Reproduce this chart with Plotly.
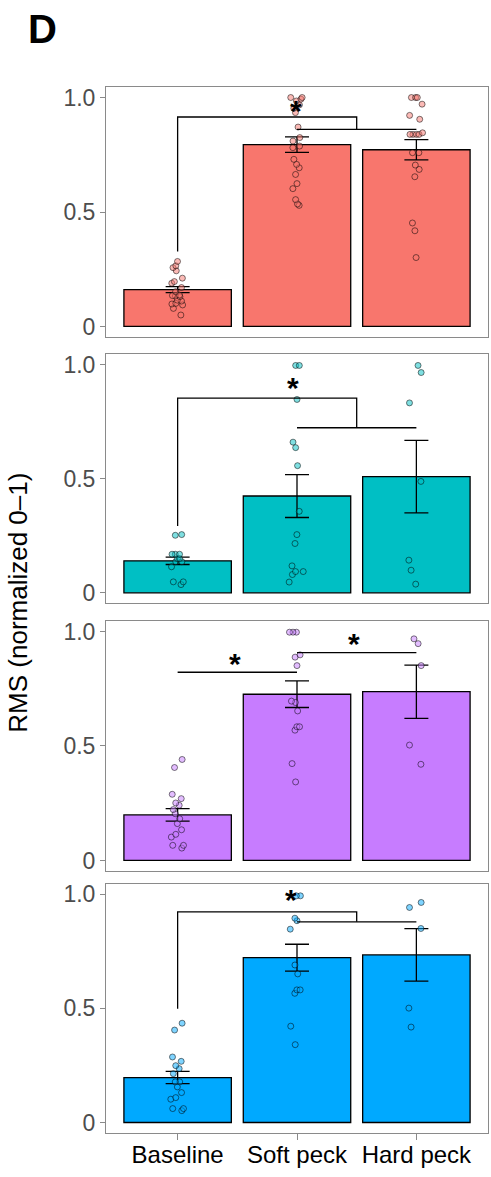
import plotly.graph_objects as go
from plotly.subplots import make_subplots

categories = ["Baseline", "Soft peck", "Hard peck"]
panel_colors = ["#F8766D", "#00BFC4", "#C77CFF", "#00A9FF"]
panel_points_fill = ["rgba(248,118,109,0.5)", "rgba(0,191,196,0.5)",
                     "rgba(199,124,255,0.5)", "rgba(0,169,255,0.5)"]

# bar means and standard errors (per panel: Baseline, Soft peck, Hard peck)
means_p1 = [0.161, 0.794, 0.772]
sem_p1 = [0.013, 0.034, 0.044]
means_p2 = [0.140, 0.424, 0.509]
sem_p2 = [0.016, 0.094, 0.159]
means_p3 = [0.199, 0.726, 0.737]
sem_p3 = [0.027, 0.058, 0.116]
means_p4 = [0.197, 0.722, 0.734]
sem_p4 = [0.027, 0.059, 0.115]

# individual observations
p1_baseline = [0.284, 0.265, 0.257, 0.243, 0.211, 0.196, 0.189, 0.170, 0.152, 0.137,
               0.135, 0.133, 0.130, 0.115, 0.111, 0.101, 0.098, 0.094, 0.079, 0.050]
p1_soft = [1.0, 1.0, 0.993, 0.985, 0.968, 0.953, 0.934, 0.871, 0.825, 0.810, 0.788,
           0.781, 0.730, 0.708, 0.693, 0.664, 0.624, 0.602, 0.554, 0.535, 0.529]
p1_hard = [1.0, 1.0, 1.0, 0.971, 0.922, 0.905, 0.846, 0.839, 0.839, 0.839, 0.839,
           0.759, 0.759, 0.705, 0.686, 0.654, 0.452, 0.418, 0.301]

p2_baseline = [0.255, 0.252, 0.169, 0.169, 0.169, 0.150, 0.150, 0.136, 0.136, 0.114,
               0.048, 0.048, 0.036]
p2_soft = [0.996, 0.996, 0.847, 0.660, 0.636, 0.557, 0.357, 0.255, 0.216, 0.118,
           0.093, 0.093, 0.080, 0.047]
p2_hard = [0.996, 0.965, 0.832, 0.488, 0.143, 0.099, 0.038]

p3_baseline = [0.441, 0.406, 0.289, 0.270, 0.251, 0.241, 0.222, 0.204, 0.182, 0.161,
               0.134, 0.114, 0.102, 0.066, 0.066, 0.054]
p3_soft = [0.997, 0.997, 0.997, 0.898, 0.888, 0.851, 0.696, 0.690, 0.653, 0.584,
           0.584, 0.569, 0.423, 0.343]
p3_hard = [0.968, 0.947, 0.851, 0.504, 0.420]

p4_baseline = [0.435, 0.405, 0.287, 0.268, 0.249, 0.236, 0.214, 0.178, 0.178, 0.156,
               0.131, 0.109, 0.102, 0.061, 0.061, 0.052]
p4_soft = [0.993, 0.993, 0.895, 0.884, 0.847, 0.690, 0.651, 0.581, 0.581, 0.566,
           0.422, 0.341]
p4_hard = [0.964, 0.942, 0.850, 0.501, 0.418]

# significance brackets: (leg bottom at group 1, top height, drop height for groups 2-3)
nested_brackets = {1: (0.327, 0.915, 0.861), 2: (0.293, 0.853, 0.723), 4: (0.498, 0.923, 0.879)}
# simple pairwise lines: (panel, from group, to group, height)
pair_lines = [(3, 0, 1, 0.822), (3, 1, 2, 0.908)]
# asterisks: (panel, x position in group units, height)
stars = [(1, 0.99, 0.959), (2, 0.97, 0.918), (3, 0.48, 0.876), (3, 1.48, 0.964), (4, 0.95, 0.993)]

y_tick_vals = [0, 0.5, 1.0]
y_tick_text = ["0", "0.5", "1.0"]
y_title = "RMS (normalized 0–1)"
panel_label = "D"

panels = [
    (means_p1, sem_p1, [p1_baseline, p1_soft, p1_hard]),
    (means_p2, sem_p2, [p2_baseline, p2_soft, p2_hard]),
    (means_p3, sem_p3, [p3_baseline, p3_soft, p3_hard]),
    (means_p4, sem_p4, [p4_baseline, p4_soft, p4_hard]),
]

FONT = "Liberation Sans, Arial, sans-serif"
GRID_GRAY = "#8a8a8a"

fig = make_subplots(rows=4, cols=1)
domains = [[0.761, 1.0], [0.5064, 0.7447], [0.2505, 0.4895], [0.0, 0.2383]]
xpos = list(range(len(categories)))

for i, (means, sems, groups) in enumerate(panels):
    r = i + 1
    fig.add_trace(go.Bar(
        x=xpos, y=means, width=0.9,
        marker=dict(color=panel_colors[i], line=dict(color="black", width=1.3)),
        error_y=dict(type="data", array=sems, color="black", thickness=1.3, width=12),
        hoverinfo="skip", showlegend=False), row=r, col=1)
    xs, ys = [], []
    for g, vals in enumerate(groups):
        xs += [g] * len(vals)
        ys += vals
    fig.add_trace(go.Box(
        x=xs, y=ys, boxpoints="all", jitter=0.45, pointpos=0, width=0.3,
        line=dict(color="rgba(0,0,0,0)"), fillcolor="rgba(0,0,0,0)",
        marker=dict(size=6, color=panel_points_fill[i],
                    line=dict(color="rgba(0,0,0,0.5)", width=1)),
        hoverinfo="skip", showlegend=False), row=r, col=1)

def axref(p):
    return ("x" if p == 1 else f"x{p}"), ("y" if p == 1 else f"y{p}")

line_style = dict(color="black", width=1.3)
for p, (bottom, top, drop) in nested_brackets.items():
    xr, yr = axref(p)
    fig.add_shape(type="path", xref=xr, yref=yr,
                  path=f"M 0 {bottom} L 0 {top} L 1.5 {top} L 1.5 {drop}", line=line_style)
    fig.add_shape(type="line", xref=xr, yref=yr, x0=1, x1=2, y0=drop, y1=drop, line=line_style)
for p, g0, g1, h in pair_lines:
    xr, yr = axref(p)
    fig.add_shape(type="line", xref=xr, yref=yr, x0=g0, x1=g1, y0=h, y1=h, line=line_style)
for p, sx, sy in stars:
    xr, yr = axref(p)
    fig.add_annotation(x=sx, y=sy, xref=xr, yref=yr, text="<b>*</b>", showarrow=False,
                       font=dict(size=30, color="black", family=FONT),
                       xanchor="center", yanchor="middle", yshift=-4)

for i in range(4):
    r = i + 1
    fig.update_yaxes(row=r, col=1, domain=domains[i], range=[-0.046, 1.046],
                     tickvals=y_tick_vals, ticktext=y_tick_text, ticks="outside", ticklen=5,
                     tickcolor=GRID_GRAY, tickfont=dict(size=23, color="#4d4d4d", family=FONT),
                     showgrid=False, zeroline=False, showline=True, mirror=True,
                     linecolor=GRID_GRAY, linewidth=1)
    fig.update_xaxes(row=r, col=1, range=[-0.6, 2.6], tickvals=xpos, ticktext=categories,
                     showgrid=False, zeroline=False, showline=True, mirror=True,
                     linecolor=GRID_GRAY, linewidth=1,
                     showticklabels=(r == 4), ticks=("outside" if r == 4 else ""), ticklen=6,
                     ticklabelstandoff=-6,
                     tickcolor=GRID_GRAY, tickfont=dict(size=24, color="black", family=FONT))

fig.add_annotation(text=y_title, xref="paper", yref="paper", x=0, y=0.507, xshift=-88,
                   textangle=-90, showarrow=False, xanchor="center", yanchor="middle",
                   font=dict(size=26, color="black", family=FONT))
fig.add_annotation(text=f"<b>{panel_label}</b>", xref="paper", yref="paper", x=0, y=1.0555,
                   xshift=-63.5, showarrow=False, xanchor="center", yanchor="middle",
                   font=dict(size=40, color="black", family=FONT))

fig.update_layout(width=491, height=1177, margin=dict(l=106, r=3, t=87, b=44),
                  plot_bgcolor="white", paper_bgcolor="white", showlegend=False,
                  barmode="overlay", font=dict(family=FONT))
fig.write_html("out.html")
